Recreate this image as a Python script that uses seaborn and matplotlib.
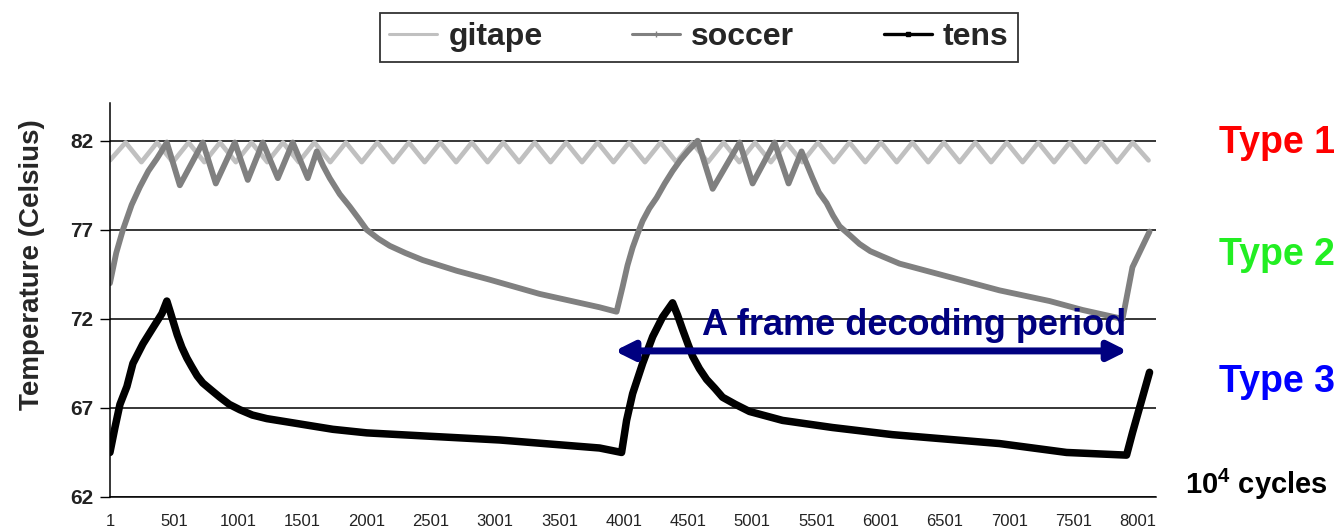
import matplotlib
matplotlib.use("Agg")
import matplotlib.pyplot as plt
from matplotlib.lines import Line2D
import seaborn as sns

# Reading of the chart: x is the cycle index (units of 10^4 cycles), y in Celsius
GITAPE_X = [1, 123, 246, 368, 491, 613, 736, 858, 981, 1103, 1226, 1348, 1471,
            1593, 1716, 1838, 1961, 2083, 2206, 2328, 2451, 2573, 2696, 2818,
            2941, 3063, 3186, 3308, 3431, 3553, 3676, 3798, 3921, 4043, 4166,
            4288, 4411, 4533, 4656, 4778, 4901, 5023, 5146, 5268, 5391, 5513,
            5636, 5758, 5881, 6003, 6126, 6248, 6371, 6493, 6616, 6738, 6861,
            6983, 7106, 7228, 7351, 7473, 7596, 7718, 7841, 7963, 8086]
GITAPE_Y = [80.9, 81.9, 80.8, 81.9, 80.8, 81.9, 80.8, 81.9, 80.8, 81.9, 80.8,
            81.9, 80.8, 81.9, 80.8, 81.9, 80.8, 81.9, 80.8, 81.9, 80.8, 81.9,
            80.8, 81.9, 80.8, 81.9, 80.8, 81.9, 80.8, 81.9, 80.8, 81.9, 80.8,
            81.9, 80.8, 81.9, 80.8, 81.9, 80.8, 81.9, 80.8, 81.9, 80.8, 81.9,
            80.8, 81.9, 80.8, 81.9, 80.8, 81.9, 80.8, 81.9, 80.8, 81.9, 80.8,
            81.9, 80.8, 81.9, 80.8, 81.9, 80.8, 81.9, 80.8, 81.9, 80.8, 81.9,
            80.9]

SOCCER_X = [1, 50, 102, 170, 234, 300, 367, 410, 444, 545, 724, 825, 973, 1074,
            1191, 1308, 1424, 1541, 1611, 1660, 1712, 1790, 1868, 1940, 2000,
            2090, 2179, 2300, 2436, 2700, 2957, 3346, 3813, 3945, 3992, 4030,
            4070, 4110, 4148, 4200, 4257, 4320, 4381, 4440, 4498, 4576, 4693,
            4903, 5004, 5175, 5284, 5385, 5471, 5520, 5580, 5630, 5681, 5760,
            5837, 5920, 6016, 6148, 6926, 7316, 7572, 7884, 7961, 8094]
SOCCER_Y = [74.0, 75.7, 77.0, 78.4, 79.4, 80.3, 81.0, 81.5, 81.9, 79.5, 81.9,
            79.6, 81.9, 79.8, 81.9, 79.9, 81.9, 79.9, 81.4, 80.6, 79.9, 79.0,
            78.3, 77.6, 77.0, 76.5, 76.1, 75.7, 75.3, 74.7, 74.2, 73.4, 72.65,
            72.4, 73.8, 75.0, 76.0, 76.8, 77.5, 78.2, 78.8, 79.6, 80.3, 80.9,
            81.4, 82.0, 79.3, 81.9, 79.6, 81.9, 79.6, 81.4, 79.9, 79.1, 78.5,
            77.8, 77.2, 76.7, 76.2, 75.8, 75.5, 75.1, 73.6, 73.0, 72.5, 72.0,
            74.9, 76.9]

TENS_X = [1, 40, 79, 133, 180, 258, 336, 406, 444, 470, 491, 525, 561, 600,
          639, 680, 724, 790, 857, 930, 1012, 1110, 1222, 1479, 1736, 2000,
          2257, 3035, 3813, 3984, 4023, 4070, 4148, 4226, 4303, 4381, 4420,
          4459, 4500, 4537, 4590, 4646, 4710, 4770, 4870, 4980, 5237, 5626,
          6093, 6926, 7448, 7915, 7961, 8094]
TENS_Y = [64.5, 65.9, 67.2, 68.2, 69.5, 70.6, 71.5, 72.3, 73.0, 72.4, 71.9,
          71.1, 70.4, 69.8, 69.3, 68.8, 68.4, 68.0, 67.6, 67.2, 66.9, 66.6,
          66.4, 66.1, 65.8, 65.6, 65.5, 65.2, 64.75, 64.5, 66.3, 67.8, 69.5,
          71.0, 72.1, 72.9, 72.2, 71.4, 70.6, 69.9, 69.2, 68.6, 68.1, 67.6,
          67.2, 66.8, 66.3, 65.9, 65.5, 65.0, 64.5, 64.35, 65.6, 69.0]

X_TICKS = [1, 501, 1001, 1501, 2001, 2501, 3001, 3501, 4001, 4501, 5001,
           5501, 6001, 6501, 7001, 7501, 8001]
Y_TICKS = [62, 67, 72, 77, 82]

SERIES_NAMES = ["gitape", "soccer", "tens"]
SERIES_COLORS = ["#c0c0c0", "#808080", "#000000"]

PERIOD_START = 3930
PERIOD_END = 7922

sns.set_style("white")
plt.rcParams["font.family"] = ["Liberation Sans", "DejaVu Sans"]
plt.rcParams["mathtext.fontset"] = "custom"
plt.rcParams["mathtext.rm"] = "Liberation Sans"
plt.rcParams["mathtext.bf"] = "Liberation Sans:bold"

fig = plt.figure(figsize=(13.44, 5.32), dpi=100)
ax = fig.add_axes([0.0818, 0.0658, 0.778, 0.74])

sns.lineplot(x=GITAPE_X, y=GITAPE_Y, ax=ax, color=SERIES_COLORS[0],
             linewidth=3.4, sort=False, estimator=None)
sns.lineplot(x=SOCCER_X, y=SOCCER_Y, ax=ax, color=SERIES_COLORS[1],
             linewidth=4.2, sort=False, estimator=None)
sns.lineplot(x=TENS_X, y=TENS_Y, ax=ax, color=SERIES_COLORS[2],
             linewidth=5.4, sort=False, estimator=None)

ax.set_xlim(1, 8141)
ax.set_ylim(62, 84.1)
ax.set_xticks(X_TICKS)
ax.set_xticklabels([str(t) for t in X_TICKS], fontsize=12, color="#222222")
ax.set_yticks(Y_TICKS)
ax.set_yticklabels([str(t) for t in Y_TICKS], fontsize=15, fontweight="bold",
                   color="#222222")
ax.tick_params(axis="x", length=0, pad=12)
ax.tick_params(axis="y", length=7, width=1, direction="out", pad=5,
               left=True, color="black")

ax.yaxis.grid(True, color="black", linewidth=1.1)
ax.xaxis.grid(False)
for side in ["top", "right"]:
    ax.spines[side].set_visible(False)
for side in ["left", "bottom"]:
    ax.spines[side].set_color("black")
    ax.spines[side].set_linewidth(1.1)

ax.set_ylabel("Temperature (Celsius)", fontsize=20, fontweight="bold")
ax.yaxis.set_label_coords(-0.062, 0.59)
ax.set_xlabel("")

# frame decoding period arrow
ax.annotate("", xy=(PERIOD_START, 70.2), xytext=(PERIOD_END, 70.2),
            arrowprops=dict(arrowstyle="<|-|>", color="#000080", lw=5,
                            mutation_scale=28, shrinkA=0, shrinkB=0))
ax.text(6265, 71.6, "A frame decoding period", color="#000080",
        fontsize=26, fontweight="bold", ha="center", va="center")

# legend
handles = [
    Line2D([], [], color=SERIES_COLORS[0], lw=2.2),
    Line2D([], [], color=SERIES_COLORS[1], lw=2.2, marker="|",
           markersize=5),
    Line2D([], [], color=SERIES_COLORS[2], lw=2.4, marker="s",
           markersize=3),
]
leg = fig.legend(handles, SERIES_NAMES, loc="center",
                 bbox_to_anchor=(0.52, 0.93), ncol=3, frameon=True,
                 fancybox=False, handlelength=1.5, handletextpad=0.35,
                 columnspacing=2.8, borderpad=0.3,
                 prop={"weight": "bold", "size": 23})
leg.get_frame().set_edgecolor("black")
leg.get_frame().set_linewidth(1.3)

# type labels on the right
fig.text(0.9935, 1 - 143 / 532, "Type 1", color="#ff0000", fontsize=27,
         fontweight="bold", ha="right", va="center")
fig.text(0.9935, 1 - 255 / 532, "Type 2", color="#22ee22", fontsize=27,
         fontweight="bold", ha="right", va="center")
fig.text(0.9935, 1 - 382 / 532, "Type 3", color="#0000ff", fontsize=27,
         fontweight="bold", ha="right", va="center")
fig.text(0.988, 1 - 484 / 532, r"$\mathbf{10^4}$ cycles", color="black",
         fontsize=21, fontweight="bold", ha="right", va="center")

fig.savefig("out.png", dpi=100)
